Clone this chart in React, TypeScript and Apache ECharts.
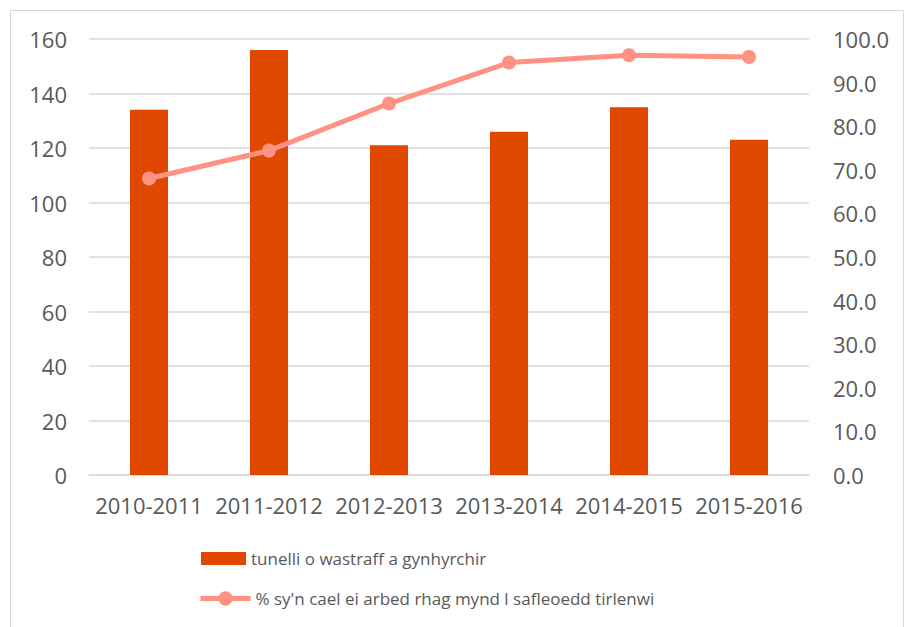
import React, { useEffect, useRef } from "react";
import * as echarts from "echarts";

const categories = ["2010-2011", "2011-2012", "2012-2013", "2013-2014", "2014-2015", "2015-2016"];
const wasteTonnes = [134, 156, 121, 126, 135, 123];
const divertedPct = [68.0, 74.4, 85.2, 94.6, 96.3, 95.9];
const barName = "tunelli o wastraff a gynhyrchir";
const lineName = "% sy'n cael ei arbed rhag mynd l safleoedd tirlenwi";

const FONT = "'Open Sans', 'Noto Sans', sans-serif";
const TEXT = "#595959";
const GRID = "#D9D9D9";
const BAR = "#E04800";
const LINE = "#FF9282";

export default function App() {
  const ref = useRef<HTMLDivElement>(null);
  useEffect(() => {
    if (!ref.current) return;
    const chart = echarts.init(ref.current, undefined, { renderer: "svg" });
    chart.setOption({
      animation: false,
      backgroundColor: "#fff",
      textStyle: { fontFamily: FONT },
      graphic: [
        {
          type: "rect",
          shape: { x: 10.5, y: 10.5, width: 893, height: 660 },
          style: { fill: "none", stroke: GRID, lineWidth: 1 },
          silent: true,
        },
      ],
      grid: { left: 89, right: 100, top: 39, bottom: 152 },
      legend: [
        {
          left: 196,
          top: 545,
          itemWidth: 45,
          itemHeight: 13,
          textStyle: { color: TEXT, fontSize: 17, fontFamily: FONT },
          data: [{ name: barName, icon: "rect" }],
        },
        {
          left: 193,
          top: 585,
          itemWidth: 50,
          itemHeight: 18,
          lineStyle: { width: 5 },
          textStyle: { color: TEXT, fontSize: 17, fontFamily: FONT },
          data: [{ name: lineName }],
        },
      ],
      xAxis: {
        type: "category",
        data: categories,
        axisTick: { show: false },
        axisLine: { lineStyle: { color: GRID, width: 1.5 } },
        axisLabel: { color: TEXT, fontSize: 22, margin: 19, interval: 0, fontFamily: FONT },
      },
      yAxis: [
        {
          type: "value",
          min: 0,
          max: 160,
          interval: 20,
          axisLine: { show: false },
          axisTick: { show: false },
          splitLine: { lineStyle: { color: GRID, width: 1.5 } },
          axisLabel: { color: TEXT, fontSize: 22, margin: 22, fontFamily: FONT },
        },
        {
          type: "value",
          min: 0,
          max: 100,
          interval: 10,
          axisLine: { show: false },
          axisTick: { show: false },
          splitLine: { show: false },
          axisLabel: {
            color: TEXT,
            fontSize: 22,
            margin: 24,
            fontFamily: FONT,
            formatter: (v: number) => v.toFixed(1),
          },
        },
      ],
      series: [
        {
          name: barName,
          type: "bar",
          data: wasteTonnes,
          barWidth: 38,
          itemStyle: { color: BAR },
        },
        {
          name: lineName,
          type: "line",
          yAxisIndex: 1,
          data: divertedPct,
          symbol: "circle",
          symbolSize: 14,
          lineStyle: { color: LINE, width: 5 },
          itemStyle: { color: LINE },
        },
      ],
    });
    return () => chart.dispose();
  }, []);
  return (
    <div
      ref={ref}
      style={{ position: "fixed", left: 0, top: 0, width: 909, height: 627 }}
    />
  );
}
